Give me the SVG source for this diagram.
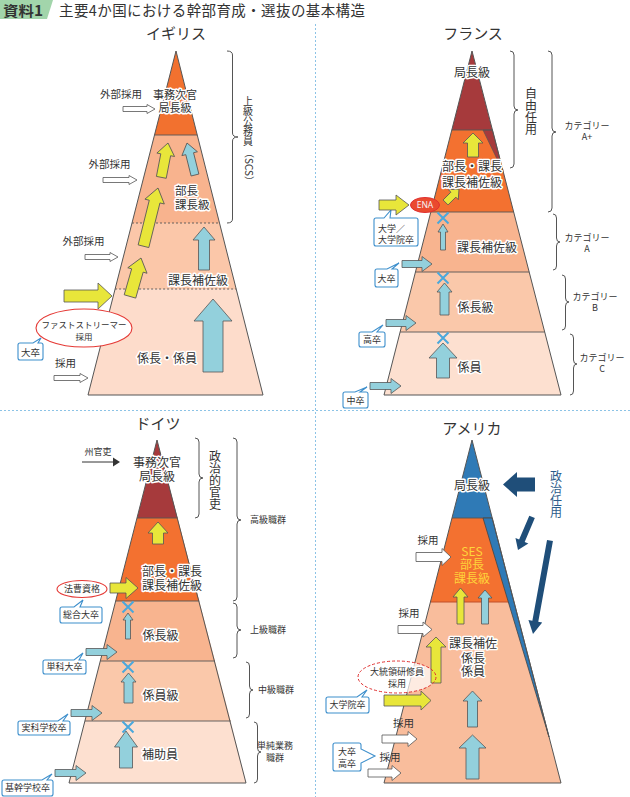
<svg xmlns="http://www.w3.org/2000/svg" width="630" height="797" viewBox="0 0 630 797">
<style>
.t{font-family:"Noto Sans CJK JP","Noto Sans",sans-serif;fill:#333}
.m{text-anchor:middle}
.h{stroke:#fff;stroke-width:3;paint-order:stroke;stroke-linejoin:round}
.ya{fill:#e8e63a;stroke:#555;stroke-width:0.8}
.ba{fill:#93d0dc;stroke:#555;stroke-width:0.8}
.wa{fill:#fff;stroke:#555;stroke-width:0.8}
.da{fill:#1f4e79}
.xm{stroke:#4aa8dc;stroke-width:2;fill:none}
.co{fill:#fff;stroke:#3d8fcc;stroke-width:1.1}
.br{fill:none;stroke:#555;stroke-width:1}
.ol{fill:none;stroke:#555;stroke-width:1}
.sep{stroke:#555;stroke-width:0.9}
.dot{stroke:#555;stroke-width:0.9;stroke-dasharray:2 2}
.vt{writing-mode:vertical-rl}
.div{stroke:#8cc3e6;stroke-width:1;stroke-dasharray:2 2;fill:none}
</style>

<g id="header">
<polygon points="0,0 53,0 47,19 0,19" fill="#a2d5ab"/>
<text x="3" y="16" class="t" font-size="14" font-weight="bold" textLength="40" lengthAdjust="spacingAndGlyphs">資料1</text>
<text x="59" y="16" class="t" font-size="14.5" textLength="306">主要4か国における幹部育成・選抜の基本構造</text>
</g>

<g id="dividers">
<line x1="315.5" y1="24" x2="315.5" y2="797" class="div"/>
<line x1="0" y1="410.5" x2="630" y2="410.5" class="div"/>
</g>

<!-- UK -->
<g id="uk">
<text x="176" y="38.5" class="t m" font-size="15">イギリス</text>
<g id="uk-layers">
<polygon points="176,51 197.2,135 154.5,135" fill="#f2712f"/>
<polygon points="154.5,135 197.2,135 219.5,223 132,223" fill="#f8b38e"/>
<polygon points="132,223 219.5,223 236.2,289 115.1,289" fill="#fbc7a9"/>
<polygon points="115.1,289 236.2,289 263,395 88,395" fill="#fddccb"/>
<line x1="154.5" y1="135" x2="197.2" y2="135" class="sep"/>
<line x1="132" y1="223" x2="219.5" y2="223" class="dot"/>
<line x1="115.1" y1="289" x2="236.2" y2="289" class="dot"/>
<polygon points="176,51 263,395 88,395" class="ol"/>
</g>
<g id="uk-ext">
<text x="121" y="98" class="t m" font-size="10.5">外部採用</text>
<text x="109.5" y="168" class="t m" font-size="10.5">外部採用</text>
<text x="83.5" y="245" class="t m" font-size="10.5">外部採用</text>
<text x="65.5" y="367" class="t m" font-size="10.5">採用</text>
</g>
<g id="uk-fast">
<ellipse cx="84" cy="328" rx="48" ry="19" fill="#fff" stroke="#e53935" stroke-width="1.1"/>
<text x="84" y="328" class="t m" font-size="8.5">ファストストリーマー</text>
<text x="84" y="340" class="t m" font-size="8.5">採用</text>
<path class="co" d="M20,343 L33,343 L41,338 L38,343 L41,343 Q43,343 43,345 L43,358 Q43,360 41,360 L20,360 Q18,360 18,358 L18,345 Q18,343 20,343 Z"/>
<text x="30.5" y="355.5" class="t m" font-size="9.5">大卒</text>
</g>
<g id="uk-brace">
<path class="br" d="M227,51 Q232.5,51 232.5,55 L232.5,133 Q232.5,137 238,137 Q232.5,137 232.5,141 L232.5,219 Q232.5,223 227,223"/>
<text x="248" y="96" class="t vt" font-size="10">上級公務員</text>
<text transform="translate(248,148) rotate(90)" x="0" y="3.5" class="t" font-size="10">（SCS）</text>
</g>
</g>

<!-- France -->
<g id="france">
<text x="473" y="38.5" class="t m" font-size="15">フランス</text>
<g id="fr-layers">
<polygon points="472,51 492.4,130 451.8,130" fill="#a63a3c"/>
<polygon points="451.8,130 492.4,130 513.7,212 430.8,212" fill="#f37130"/>
<polygon points="483,130 492.4,130 503.3,172" fill="#a63a3c" stroke="#555" stroke-width="0.7"/>
<polygon points="430.8,212 513.7,212 529.2,272 415.5,272" fill="#f8b48f"/>
<polygon points="415.5,272 529.2,272 544.7,332 400.1,332" fill="#fac8aa"/>
<polygon points="400.1,332 544.7,332 561,395 384,395" fill="#fde0d0"/>
<line x1="451.8" y1="130" x2="492.4" y2="130" class="sep"/>
<line x1="430.8" y1="212" x2="513.7" y2="212" class="sep"/>
<line x1="415.5" y1="272" x2="529.2" y2="272" class="sep"/>
<line x1="400.1" y1="332" x2="544.7" y2="332" class="sep"/>
<polygon points="472,51 561,395 384,395" class="ol"/>
</g>
<g id="fr-ena">
<ellipse cx="425" cy="205" rx="14.5" ry="7.5" fill="#ea4a2f" stroke="#e03030" stroke-width="1"/>
<text x="425" y="208.3" class="m" font-family="'Noto Sans','Liberation Sans',sans-serif" font-size="8.5" fill="#f4f4f4">ENA</text>
</g>
<g id="fr-callouts">
<path class="co" d="M376,218 L384,218 L391,210 L390,218 L416,218 Q418,218 418,220 L418,244 Q418,246 416,246 L376,246 Q374,246 374,244 L374,220 Q374,218 376,218 Z"/>
<text x="378" y="231.5" class="t" font-size="9">大学／</text>
<text x="378" y="243" class="t" font-size="9">大学院卒</text>
<path class="co" d="M377,269 L387,269 L399,263 L392,269 L396,269 Q398,269 398,271 L398,285 Q398,287 396,287 L377,287 Q375,287 375,285 L375,271 Q375,269 377,269 Z"/>
<text x="386.5" y="281.5" class="t m" font-size="9">大卒</text>
<path class="co" d="M361,332 L372,332 L383,325 L377,332 L383,332 Q385,332 385,334 L385,345 Q385,347 383,347 L361,347 Q359,347 359,345 L359,334 Q359,332 361,332 Z"/>
<text x="372" y="342.5" class="t m" font-size="9">高卒</text>
<path class="co" d="M345,392 L355,392 L367,387 L360,392 L366,392 Q368,392 368,394 L368,406 Q368,408 366,408 L345,408 Q343,408 343,406 L343,394 Q343,392 345,392 Z"/>
<text x="355.5" y="403.5" class="t m" font-size="9">中卒</text>
</g>
<g id="fr-braces">
<path class="br" d="M510,51 Q514,51 514,55 L514,106 Q514,110 518,110 Q514,110 514,114 L514,164 Q514,168 510,168"/>
<text x="531" y="87" class="t vt" font-size="12">自由任用</text>
<path class="br" d="M548,51 Q552,51 552,55 L552,128 Q552,132 556,132 Q552,132 552,136 L552,208 Q552,212 548,212"/>
<path class="br" d="M553,214 Q556.5,214 556.5,218 L556.5,238 Q556.5,242 560,242 Q556.5,242 556.5,246 L556.5,266 Q556.5,270 553,270"/>
<path class="br" d="M562,275 Q565.5,275 565.5,279 L565.5,298 Q565.5,302 569,302 Q565.5,302 565.5,306 L565.5,326 Q565.5,330 562,330"/>
<path class="br" d="M570,334 Q573.5,334 573.5,338 L573.5,360 Q573.5,364 577,364 Q573.5,364 573.5,368 L573.5,391 Q573.5,395 570,395"/>
<text x="587" y="129" class="t m" font-size="9">カテゴリー</text>
<text x="587" y="140" class="t m" font-size="9">A+</text>
<text x="587" y="240.5" class="t m" font-size="9">カテゴリー</text>
<text x="587" y="251.5" class="t m" font-size="9">A</text>
<text x="595" y="299.5" class="t m" font-size="9">カテゴリー</text>
<text x="595" y="311" class="t m" font-size="9">B</text>
<text x="602" y="361" class="t m" font-size="9">カテゴリー</text>
<text x="602" y="372" class="t m" font-size="9">C</text>
</g>
</g>

<!-- Germany -->
<g id="germany">
<text x="158" y="428.5" class="t m" font-size="15">ドイツ</text>
<g id="de-layers">
<polygon points="157,440 177.5,518 137,518" fill="#a63a3c"/>
<polygon points="137,518 177.5,518 199.2,601 115.7,601" fill="#f37130"/>
<polygon points="115.7,601 199.2,601 215,661 100.3,661" fill="#f8b48f"/>
<polygon points="100.3,661 215,661 230.7,721 84.9,721" fill="#fac8aa"/>
<polygon points="84.9,721 230.7,721 246,783 69,783" fill="#fde0d0"/>
<line x1="137" y1="518" x2="177.5" y2="518" class="sep"/>
<line x1="115.7" y1="601" x2="199.2" y2="601" class="sep"/>
<line x1="100.3" y1="661" x2="215" y2="661" class="sep"/>
<line x1="84.9" y1="721" x2="230.7" y2="721" class="sep"/>
<polygon points="157,440 246,783 69,783" class="ol"/>
</g>
<g id="de-state">
<text x="98" y="455" class="t m" font-size="9">州官吏</text>
</g>
<g id="de-law">
<ellipse cx="82" cy="589" rx="25" ry="8.5" fill="#fff" stroke="#e53935" stroke-width="1.1"/>
<text x="82" y="592.3" class="t m" font-size="9">法曹資格</text>
<path class="co" d="M62,607 L74,607 L83,600 L80,607 L100,607 Q102,607 102,609 L102,621 Q102,623 100,623 L62,623 Q60,623 60,621 L60,609 Q60,607 62,607 Z"/>
<text x="81" y="618.3" class="t m" font-size="9">総合大卒</text>
</g>
<g id="de-callouts">
<path class="co" d="M45,660 L74,660 L83,653 L79,660 L84,660 Q86,660 86,662 L86,672 Q86,674 84,674 L45,674 Q43,674 43,672 L43,662 Q43,660 45,660 Z"/>
<text x="64.5" y="670.3" class="t m" font-size="9">単科大卒</text>
<path class="co" d="M20,721 L58,721 L68,714 L63,721 L68,721 Q70,721 70,723 L70,733 Q70,735 68,735 L20,735 Q18,735 18,733 L18,723 Q18,721 20,721 Z"/>
<text x="44" y="731.3" class="t m" font-size="9">実科学校卒</text>
<path class="co" d="M4,780 L42,780 L52,774 L47,780 L51,780 Q53,780 53,782 L53,794 Q53,796 51,796 L4,796 Q2,796 2,794 L2,782 Q2,780 4,780 Z"/>
<text x="27.5" y="791.3" class="t m" font-size="9">基幹学校卒</text>
</g>
<g id="de-braces">
<path class="br" d="M195,438 Q199,438 199,442 L199,474 Q199,478 203,478 Q199,478 199,482 L199,514 Q199,518 195,518"/>
<text x="215" y="450" class="t vt" font-size="12">政治的官吏</text>
<path class="br" d="M233,438 Q237,438 237,442 L237,516 Q237,520 241,520 Q237,520 237,524 L237,597 Q237,601 233,601"/>
<path class="br" d="M233,603 Q237,603 237,607 L237,626 Q237,630 241,630 Q237,630 237,634 L237,654 Q237,658 233,658"/>
<path class="br" d="M246,662 Q249.5,662 249.5,666 L249.5,686 Q249.5,690 253,690 Q249.5,690 249.5,694 L249.5,714 Q249.5,718 246,718"/>
<path class="br" d="M254,722 Q257.5,722 257.5,726 L257.5,748 Q257.5,752 261,752 Q257.5,752 257.5,756 L257.5,779 Q257.5,783 254,783"/>
<text x="250" y="523.3" class="t" font-size="9">高級職群</text>
<text x="250" y="632.5" class="t" font-size="9">上級職群</text>
<text x="258" y="693.3" class="t" font-size="9">中級職群</text>
<text x="275" y="749" class="t m" font-size="9">単純業務</text>
<text x="275" y="760.5" class="t m" font-size="9">職群</text>
</g>
</g>

<!-- USA -->
<g id="usa">
<text x="472" y="433.5" class="t m" font-size="15">アメリカ</text>
<g id="us-layers">
<polygon points="430.4,602 514,602 561,783 384,783" fill="#f9bd9c"/>
<polygon points="452,518 492.2,518 514,602 430.4,602" fill="#f37130"/>
<polygon points="472,440 492.2,518 452,518" fill="#2f7ab6"/>
<line x1="452" y1="518" x2="492.2" y2="518" class="sep"/>
<line x1="430.4" y1="602" x2="514" y2="602" stroke="#c0502a" stroke-width="1"/>
<polygon points="483,518 492.2,518 549,737" fill="#2f7ab6" stroke="#444" stroke-width="0.8"/>
<polygon points="472,440 561,783 384,783" class="ol"/>
</g>
<g id="us-pol">
<text x="556" y="470" class="vt" font-family="'Noto Sans CJK JP',sans-serif" font-size="12" fill="#2b5c8a">政治任用</text>
</g>
<g id="us-pmf">
<ellipse cx="397" cy="677" rx="39" ry="16" fill="#fff" fill-opacity="0.7"/>
</g>
<g id="us-callouts">
<path class="co" d="M328,697 L357,697 L367,690 L362,697 L367,697 Q369,697 369,699 L369,711 Q369,713 367,713 L328,713 Q326,713 326,711 L326,699 Q326,697 328,697 Z"/>
<text x="347.5" y="708.3" class="t m" font-size="9">大学院卒</text>
<path class="co" d="M335,743 L359,743 Q361,743 361,745 L361,749 L375,756 L361,763 L361,769 Q361,771 359,771 L335,771 Q333,771 333,769 L333,745 Q333,743 335,743 Z"/>
<text x="347" y="755.3" class="t m" font-size="9">大卒</text>
<text x="347" y="766.5" class="t m" font-size="9">高卒</text>
</g>
</g>

<g id="connectors">
<!-- UK arrows -->
<polygon class="wa" points="155,109 147,104.5 147,106.5 123,106.5 123,111.5 147,111.5 147,113.5"/>
<polygon class="wa" points="137,180 129,175.5 129,177.5 103,177.5 103,182.5 129,182.5 129,184.5"/>
<polygon class="wa" points="118,257 110,252.5 110,254.5 85,254.5 85,259.5 110,259.5 110,261.5"/>
<polygon class="wa" points="88,378 80,373.5 80,375.5 54,375.5 54,380.5 80,380.5 80,382.5"/>
<polygon class="ya" points="112,296 98,283 98,290 64,290 64,302 98,302 98,309"/>
<polygon class="ya" transform="translate(141,258) rotate(16)" points="0,0 10,13 6,13 6,40 -6,40 -6,13 -10,13"/>
<polygon class="ya" transform="translate(158,188) rotate(14)" points="0,0 10,14 5.5,14 5.5,60 -5.5,60 -5.5,14 -10,14"/>
<polygon class="ya" transform="translate(168,143) rotate(11)" points="0,0 9,12 5,12 5,35 -5,35 -5,12 -9,12"/>
<polygon class="ba" transform="translate(187,143) rotate(-14)" points="0,0 8,11 4,11 4,33 -4,33 -4,11 -8,11"/>
<polygon class="ba" points="204,227 215,240 209.5,240 209.5,270 198.5,270 198.5,240 193,240"/>
<polygon class="ba" points="213,299 232,321 223,321 223,372 203,372 203,321 194,321"/>
<!-- France arrows -->
<polygon class="ya" points="473,133 483,143 478.5,143 478.5,157 467.5,157 467.5,143 463,143"/>
<polygon class="ya" transform="translate(459,189) rotate(45)" points="0,0 7,8 3.5,8 3.5,19 -3.5,19 -3.5,8 -7,8"/>
<polygon class="ya" points="409,205 396,195 396,200 379,200 379,210 396,210 396,215"/>
<polygon class="ba" points="443,224 448,232 445.5,232 445.5,250 440.5,250 440.5,232 438,232"/>
<polygon class="ba" points="444.5,283 452,292 449,292 449,315 440,315 440,292 437,292"/>
<polygon class="ba" points="443,343 457,358 449.5,358 449.5,378 436.5,378 436.5,358 429,358"/>
<polygon class="ba" points="432,264 422,256.5 422,260.5 402,260.5 402,267.5 422,267.5 422,271.5"/>
<polygon class="ba" points="416,323 406,315.5 406,319.5 386,319.5 386,326.5 406,326.5 406,330.5"/>
<polygon class="ba" points="401,386 391,378.5 391,382.5 370,382.5 370,389.5 391,389.5 391,393.5"/>
<path class="xm" d="M437.5,212.5 L448.5,223.5 M448.5,212.5 L437.5,223.5 M437.5,272.5 L448.5,283.5 M448.5,272.5 L437.5,283.5 M437.5,332.5 L448.5,343.5 M448.5,332.5 L437.5,343.5"/>
<!-- Germany arrows -->
<line x1="82" y1="462" x2="114" y2="462" stroke="#333" stroke-width="1"/>
<polygon points="113,457.5 120,462 113,466.5" fill="#333"/>
<polygon class="ya" points="158,522 168,533 163.5,533 163.5,544 152.5,544 152.5,533 148,533"/>
<polygon class="ya" points="138,588 126,577.5 126,583 110,583 110,593 126,593 126,598.5"/>
<polygon class="ba" points="128,613 133,620 130.5,620 130.5,639 125.5,639 125.5,620 123,620"/>
<polygon class="ba" points="128.5,673 136,682 133,682 133,703 124,703 124,682 121,682"/>
<polygon class="ba" points="126,731 137.5,747 132.5,747 132.5,768 119.5,768 119.5,747 114.5,747"/>
<polygon class="ba" points="117,652 107,644.5 107,648.5 86,648.5 86,655.5 107,655.5 107,659.5"/>
<polygon class="ba" points="102,713 92,705.5 92,709.5 71,709.5 71,716.5 92,716.5 92,720.5"/>
<polygon class="ba" points="86,773 76,765.5 76,769.5 55,769.5 55,776.5 76,776.5 76,780.5"/>
<path class="xm" d="M122.5,601.5 L133.5,612.5 M133.5,601.5 L122.5,612.5 M122.5,661.5 L133.5,672.5 M133.5,661.5 L122.5,672.5 M122.5,721.5 L133.5,732.5 M133.5,721.5 L122.5,732.5"/>
<!-- USA arrows -->
<polygon class="da" points="503,484.5 517,472 517,477.5 535,477.5 535,491.5 517,491.5 517,497"/>
<polygon class="da" transform="translate(518,550) rotate(203)" points="0,0 7,10 3,10 3,36 -3,36 -3,10 -7,10"/>
<polygon class="da" transform="translate(533,634) rotate(190.3)" points="0,0 7,13 3,13 3,95 -3,95 -3,13 -7,13"/>
<polygon class="wa" points="451,557 442,548.5 442,552.5 416,552.5 416,561.5 442,561.5 442,565.5"/>
<polygon class="ya" points="460.5,588 468,597 464,597 464,624 457,624 457,597 453,597"/>
<polygon class="ba" points="485,590 492,598 488.5,598 488.5,624 481.5,624 481.5,598 478,598"/>
<polygon class="wa" points="432,629.5 423,622 423,625.5 398,625.5 398,633.5 423,633.5 423,637"/>
<polygon class="ya" points="436,637 446,647 441,647 441,683 431,683 431,647 426,647"/>
<polygon class="ya" points="431,700.5 421,691 421,695 384,695 384,706 421,706 421,710"/>
<polygon class="ba" points="472.5,691 482,701 477.5,701 477.5,727 467.5,727 467.5,701 463,701"/>
<polygon class="ba" points="472.5,735 486,748 479,748 479,779 466,779 466,748 459,748"/>
<polygon class="wa" points="417,739 408,731.5 408,735 382,735 382,743 408,743 408,746.5"/>
<polygon class="wa" points="401,773 392,765.5 392,769 368,769 368,777 392,777 392,780.5"/>
<ellipse cx="397" cy="677" rx="39" ry="16" fill="none" stroke="#e03030" stroke-width="1" stroke-dasharray="3 2"/>
</g>

<g id="labels">
<text x="175" y="99" class="t m h" font-size="11">事務次官</text>
<text x="175" y="112" class="t m h" font-size="11">局長級</text>
<text x="175" y="194.5" class="t h" font-size="11.5">部長</text>
<text x="175" y="208.5" class="t h" font-size="11.5">課長級</text>
<text x="198" y="285" class="t m h" font-size="12">課長補佐級</text>
<text x="167" y="362.5" class="t m h" font-size="12">係長・係員</text>
<text x="472" y="77" class="t m h" font-size="12">局長級</text>
<text x="472" y="170.5" class="t m h" font-size="12">部長・課長</text>
<text x="472" y="186.5" class="t m h" font-size="12">課長補佐級</text>
<text x="487" y="251.5" class="t m h" font-size="12">課長補佐級</text>
<text x="475.5" y="311.5" class="t m h" font-size="12">係長級</text>
<text x="469.5" y="371.5" class="t m h" font-size="12">係員</text>
<text x="157" y="466.5" class="t m h" font-size="12">事務次官</text>
<text x="157" y="480.5" class="t m h" font-size="12">局長級</text>
<text x="172" y="575.5" class="t m h" font-size="12">部長・課長</text>
<text x="172" y="589.5" class="t m h" font-size="12">課長補佐級</text>
<text x="160.5" y="639.5" class="t m h" font-size="12">係長級</text>
<text x="160.5" y="699.5" class="t m h" font-size="12">係員級</text>
<text x="160" y="758.5" class="t m h" font-size="12">補助員</text>
<text x="472" y="489.5" class="t m h" font-size="12">局長級</text>
<text x="428" y="543.8" class="t m" font-size="10.5">採用</text>
<text x="472" y="555.5" class="m" font-family="'Noto Sans CJK JP',sans-serif" font-size="12" fill="#ffd43a">SES</text>
<text x="472" y="569" class="m" font-family="'Noto Sans CJK JP',sans-serif" font-size="12" fill="#ffd43a">部長</text>
<text x="472" y="583" class="m" font-family="'Noto Sans CJK JP',sans-serif" font-size="12" fill="#ffd43a">課長級</text>
<text x="409" y="617" class="t m" font-size="10.5">採用</text>
<text x="473" y="648.3" class="t m h" font-size="12">課長補佐</text>
<text x="473" y="662.8" class="t m h" font-size="12">係長</text>
<text x="473" y="676.3" class="t m h" font-size="12">係員</text>
<text x="397" y="675.2" class="t m h" font-size="9">大統領研修員</text>
<text x="397" y="686.5" class="t m h" font-size="9">採用</text>
<text x="403.5" y="727" class="t m" font-size="10.5">採用</text>
<text x="390" y="761" class="t m" font-size="10.5">採用</text>
</g>
</svg>
